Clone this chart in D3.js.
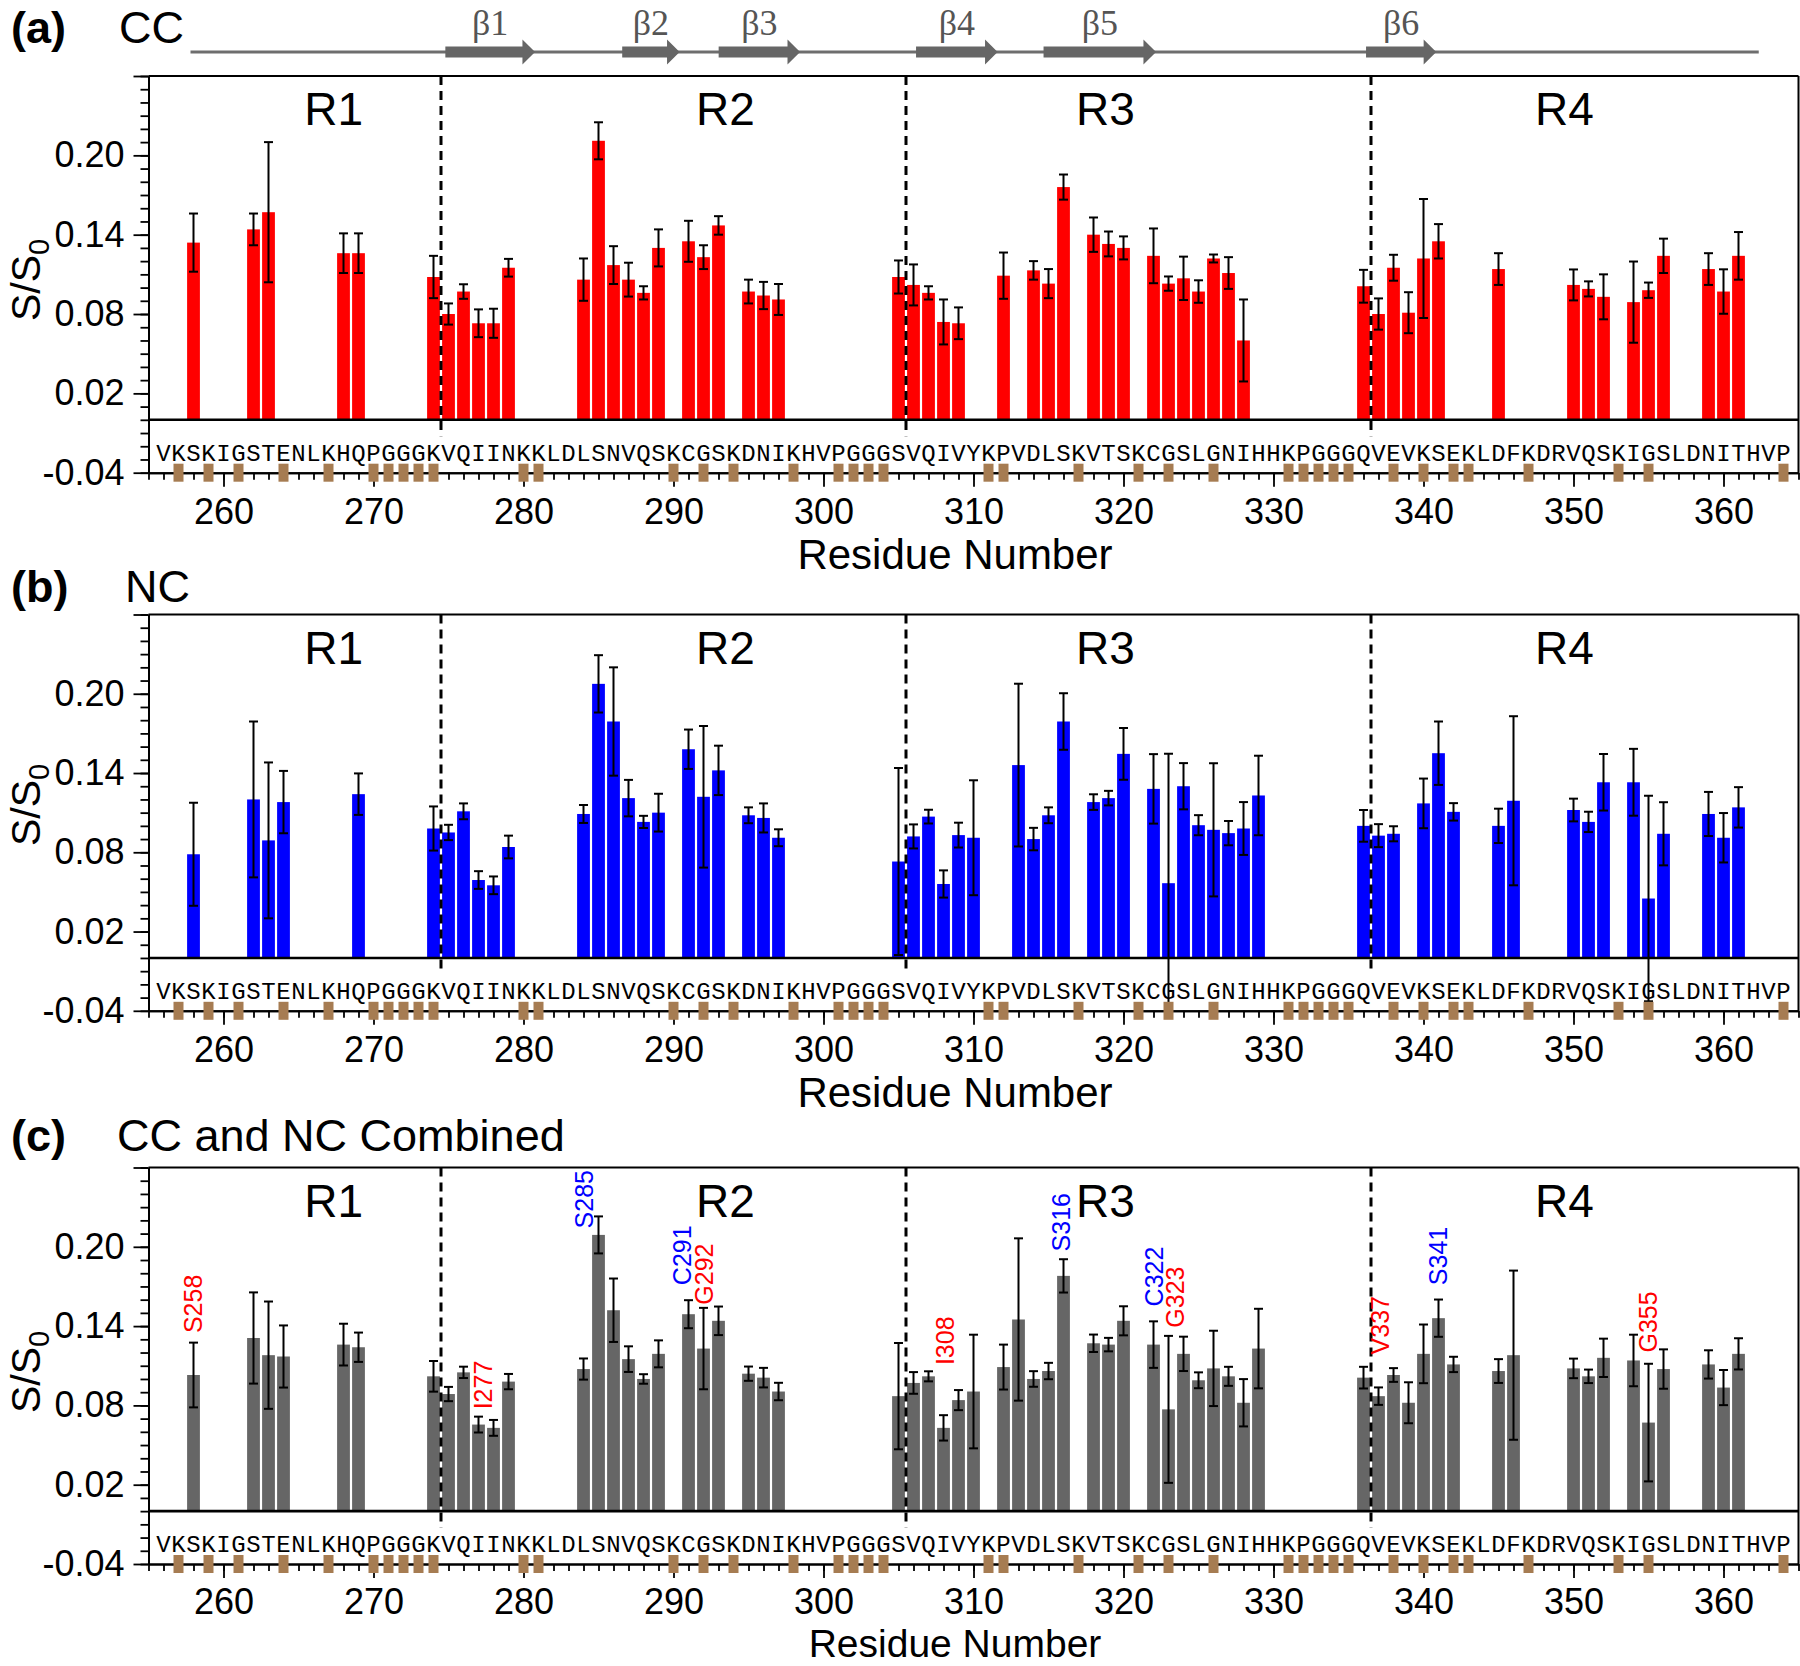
<!DOCTYPE html>
<html><head><meta charset="utf-8">
<script src="https://cdn.jsdelivr.net/npm/d3@7"></script>
<style>body{margin:0;background:#fff} svg{display:block}</style>
</head><body>
<svg id="chart" width="1800" height="1666"></svg>
<script>
// ---------------- DATA ----------------
// [residue, S/S0, error]
const ccData = [
 [258,0.134,0.022],[262,0.144,0.012],[263,0.157,0.053],[268,0.126,0.015],[269,0.126,0.015],
 [274,0.108,0.016],[275,0.080,0.008],[276,0.097,0.0055],[277,0.073,0.0105],[278,0.073,0.011],[279,0.115,0.0067],
 [284,0.106,0.016],[285,0.211,0.014],[286,0.117,0.0143],[287,0.106,0.0128],[288,0.096,0.005],[289,0.130,0.014],
 [291,0.135,0.0155],[292,0.123,0.009],[293,0.147,0.007],[295,0.097,0.009],[296,0.094,0.0103],[297,0.091,0.0117],
 [305,0.108,0.0125],[306,0.102,0.0155],[307,0.096,0.005],[308,0.074,0.017],[309,0.073,0.012],
 [312,0.109,0.0175],[314,0.113,0.007],[315,0.103,0.011],[316,0.176,0.0095],
 [318,0.140,0.013],[319,0.133,0.0094],[320,0.130,0.0087],
 [322,0.124,0.0207],[323,0.103,0.0054],[324,0.107,0.0164],[325,0.097,0.0085],[326,0.122,0.003],[327,0.111,0.012],[328,0.060,0.031],
 [336,0.101,0.0124],[337,0.080,0.0118],[338,0.115,0.0098],[339,0.081,0.0155],[340,0.122,0.045],[341,0.135,0.013],
 [345,0.114,0.012],[350,0.102,0.0117],[351,0.099,0.0057],[352,0.093,0.017],
 [354,0.089,0.0307],[355,0.098,0.0058],[356,0.124,0.013],[359,0.114,0.012],[360,0.097,0.0168],[361,0.124,0.018]
];
const ncData = [
 [258,0.0785,0.039],[262,0.120,0.059],[263,0.089,0.059],[264,0.118,0.0236],[269,0.124,0.0157],
 [274,0.098,0.0167],[275,0.095,0.0058],[276,0.111,0.006],[277,0.059,0.0067],[278,0.055,0.0067],[279,0.084,0.0086],
 [284,0.109,0.0068],[285,0.2075,0.0217],[286,0.179,0.041],[287,0.121,0.0138],[288,0.103,0.0046],[289,0.110,0.0143],
 [291,0.158,0.0149],[292,0.122,0.0536],[293,0.142,0.0187],[295,0.108,0.006],[296,0.106,0.011],[297,0.091,0.0064],
 [305,0.073,0.0708],[306,0.092,0.0091],[307,0.107,0.0052],[308,0.056,0.0103],[309,0.093,0.0094],[310,0.091,0.0435],
 [313,0.146,0.0616],[314,0.090,0.0085],[315,0.108,0.006],[316,0.179,0.0214],
 [318,0.118,0.0059],[319,0.121,0.0055],[320,0.1545,0.0196],
 [322,0.128,0.0263],[323,0.0566,0.098],[324,0.130,0.0175],[325,0.1005,0.0076],[326,0.097,0.0504],[327,0.0945,0.0092],[328,0.098,0.020],[329,0.123,0.0301],
 [336,0.100,0.012],[337,0.0926,0.0087],[338,0.094,0.0057],[340,0.117,0.0188],[341,0.155,0.024],[342,0.1106,0.0066],
 [345,0.100,0.013],[346,0.119,0.064],[350,0.112,0.0086],[351,0.103,0.0077],[352,0.133,0.0214],
 [354,0.133,0.0253],[355,0.045,0.0778],[356,0.094,0.0239],[359,0.109,0.0167],[360,0.091,0.0187],[361,0.114,0.0153]
];
const combinedData = [
 [258,0.103,0.0245],[262,0.131,0.0345],[263,0.118,0.0406],[264,0.117,0.0235],[268,0.126,0.0158],[269,0.124,0.0111],
 [274,0.102,0.0116],[275,0.0886,0.0054],[276,0.105,0.0043],[277,0.0655,0.006],[278,0.063,0.006],[279,0.098,0.0058],
 [284,0.1075,0.008],[285,0.209,0.014],[286,0.152,0.024],[287,0.115,0.0097],[288,0.100,0.0036],[289,0.119,0.0102],
 [291,0.149,0.0106],[292,0.123,0.0308],[293,0.144,0.0108],[295,0.104,0.0054],[296,0.101,0.0074],[297,0.0905,0.0066],
 [305,0.087,0.0402],[306,0.097,0.0082],[307,0.102,0.0038],[308,0.063,0.0096],[309,0.084,0.0076],[310,0.0905,0.043],
 [312,0.109,0.017],[313,0.145,0.0614],[314,0.100,0.0059],[315,0.106,0.0062],[316,0.178,0.0126],
 [318,0.127,0.0066],[319,0.126,0.0051],[320,0.144,0.011],
 [322,0.126,0.0176],[323,0.077,0.0556],[324,0.119,0.013],[325,0.099,0.006],[326,0.108,0.0285],[327,0.102,0.0072],[328,0.082,0.0179],[329,0.123,0.0301],
 [336,0.101,0.0082],[337,0.087,0.0066],[338,0.103,0.0052],[339,0.082,0.0155],[340,0.119,0.0222],[341,0.146,0.0141],[342,0.111,0.0058],
 [345,0.106,0.009],[346,0.118,0.064],[350,0.108,0.0074],[351,0.102,0.0051],[352,0.116,0.0145],
 [354,0.114,0.0195],[355,0.067,0.0445],[356,0.1075,0.0149],[359,0.111,0.0107],[360,0.0935,0.0133],[361,0.119,0.0118]
];
// annotations in panel (c): [residue position, label, colour, S/S0 where the label starts]
const annotations = [
 [257.98,'S258','red',0.1347],[277.33,'I277','red',0.077],[284.03,'S285','blue',0.2139],
 [290.55,'C291','blue',0.171],[292.01,'G292','red',0.1562],[308.12,'I308','red',0.1105],
 [315.86,'S316','blue',0.1965],[322.0,'C322','blue',0.1549],[323.43,'G323','red',0.1388],
 [337.12,'V337','red',0.1186],[340.98,'S341','blue',0.171],[354.97,'G355','red',0.12]
];
const sequence = "VKSKIGSTENLKHQPGGGKVQIINKKLDLSNVQSKCGSKDNIKHVPGGGSVQIVYKPVDLSKVTSKCGSLGNIHHKPGGGQVEVKSEKLDFKDRVQSKIGSLDNITHVP";
const sequenceStart = 256;
const markedResidues = [257,259,261,264,267,270,271,272,273,274,280,281,290,292,294,298,301,302,303,304,
  311,312,317,321,323,326,331,332,333,334,335,338,340,342,343,347,353,355,364];
const regionBoundaries = [274.5,305.5,336.5];
const regionLabels = [['R1',267.35],['R2',293.46],['R3',318.8],['R4',349.4]];
const strands = [['β1',274.79,280.77],['β2',286.58,290.41],['β3',293.01,298.44],
  ['β4',306.17,311.61],['β5',314.67,322.17],['β6',336.17,340.85]];
const backbone = [257.8,362.35];
const xMajorTicks = [260,270,280,290,300,310,320,330,340,350,360];
const yMajorTicks = [-0.04,0.02,0.08,0.14,0.20,0.26];
const yTickLabels = ['-0.04','0.02','0.08','0.14','0.20',''];

// ---------------- DRAW ----------------
const svg = d3.select('#chart');
const FONT = "'Liberation Sans', Arial, Helvetica, sans-serif";
const MONO = "'Liberation Mono', 'Courier New', monospace";
const SERIF = "'Liberation Serif', 'Times New Roman', serif";
const x = d3.scaleLinear().domain([255,365]).range([148.5,1798.5]);

const panels = [
 {tag:'(a)', title:'CC', titleX:119, data:ccData, color:'#ff0000', top:76, bottom:472.7, headY:43, ylabY:280, xlabY:569, xlabSize:42, tickPad:12, ann:[]},
 {tag:'(b)', title:'NC', titleX:125, data:ncData, color:'#0000ff', top:614.5, bottom:1010.8, headY:601.5, ylabY:805, xlabY:1107, xlabSize:42, tickPad:12, ann:[]},
 {tag:'(c)', title:'CC and NC Combined', titleX:117, data:combinedData, color:'#666666', top:1167.5, bottom:1564, headY:1151, ylabY:1372, xlabY:1657, xlabSize:39, tickPad:10, ann:annotations}
];

panels.forEach(p => {
  const y = d3.scaleLinear().domain([-0.04,0.26]).range([p.bottom,p.top]);
  const g = svg.append('g');

  // headers
  g.append('text').attr('x',11).attr('y',p.headY).attr('font-family',FONT).attr('font-size',45)
    .attr('font-weight','bold').text(p.tag);
  g.append('text').attr('x',p.titleX).attr('y',p.headY).attr('font-family',FONT).attr('font-size',45).text(p.title);

  // bars
  g.append('g').selectAll('rect').data(p.data).join('rect')
    .attr('x',d=>x(d[0])-6.4).attr('width',12.8)
    .attr('y',d=>y(d[1])).attr('height',d=>y(0)-y(d[1]))
    .attr('fill',p.color);

  // region dashed lines
  g.append('g').selectAll('line').data(regionBoundaries).join('line')
    .attr('x1',d=>x(d)).attr('x2',d=>x(d)).attr('y1',y(0.26)).attr('y2',y(-0.0125))
    .attr('stroke','#000').attr('stroke-width',3).attr('stroke-dasharray','9,6');

  // zero line
  g.append('line').attr('x1',x(255)).attr('x2',x(365)).attr('y1',y(0)).attr('y2',y(0))
    .attr('stroke','#000').attr('stroke-width',2.6);

  // error bars
  const eb = g.append('g').attr('stroke','#000').attr('stroke-width',2);
  eb.selectAll('line.v').data(p.data).join('line').attr('class','v')
    .attr('x1',d=>x(d[0])).attr('x2',d=>x(d[0]))
    .attr('y1',d=>y(d[1]+d[2])).attr('y2',d=>y(d[1]-d[2]));
  eb.selectAll('line.t').data(p.data).join('line').attr('class','t')
    .attr('x1',d=>x(d[0])-4.5).attr('x2',d=>x(d[0])+4.5)
    .attr('y1',d=>y(d[1]+d[2])).attr('y2',d=>y(d[1]+d[2]));
  eb.selectAll('line.b').data(p.data).join('line').attr('class','b')
    .attr('x1',d=>x(d[0])-4.5).attr('x2',d=>x(d[0])+4.5)
    .attr('y1',d=>y(d[1]-d[2])).attr('y2',d=>y(d[1]-d[2]));

  // borders
  g.append('line').attr('x1',x(255)).attr('x2',x(365)).attr('y1',y(0.26)).attr('y2',y(0.26))
    .attr('stroke','#000').attr('stroke-width',2);
  g.append('line').attr('x1',x(365)).attr('x2',x(365)).attr('y1',y(0.26)).attr('y2',y(-0.04))
    .attr('stroke','#000').attr('stroke-width',2);

  // left axis
  const yMinor = g.append('g').attr('transform',`translate(${x(255)},0)`)
    .call(d3.axisLeft(y).tickValues(d3.range(-4,27).map(v=>v/100)).tickSize(8).tickSizeOuter(0).tickFormat(''));
  const yMajor = g.append('g').attr('transform',`translate(${x(255)},0)`)
    .call(d3.axisLeft(y).tickValues(yMajorTicks).tickSize(15).tickSizeOuter(0).tickPadding(9)
      .tickFormat((d,i)=>yTickLabels[i]));
  // bottom axis
  const xMinor = g.append('g').attr('transform',`translate(0,${y(-0.04)})`)
    .call(d3.axisBottom(x).tickValues(d3.range(255,366)).tickSize(7).tickSizeOuter(0).tickFormat(''));
  const xMajor = g.append('g').attr('transform',`translate(0,${y(-0.04)})`)
    .call(d3.axisBottom(x).tickValues(xMajorTicks).tickSize(14).tickSizeOuter(0).tickPadding(p.tickPad).tickFormat(d=>String(d)));
  [yMinor,yMajor,xMinor,xMajor].forEach(a=>{
    a.attr('font-family',FONT).attr('font-size',36);
    a.selectAll('path').attr('stroke-width',2);
    a.selectAll('line').attr('stroke-width',1.8);
  });

  // sequence letters
  g.append('g').selectAll('text').data(sequence.split('')).join('text')
    .attr('x',(d,i)=>x(sequenceStart+i)).attr('y',y(-0.031))
    .attr('text-anchor','middle').attr('font-family',MONO).attr('font-size',24).text(d=>d);

  // marked residues
  g.append('g').selectAll('rect').data(markedResidues).join('rect')
    .attr('x',d=>x(d)-5).attr('width',10).attr('y',y(-0.04)-9).attr('height',18)
    .attr('fill','#a67c52');

  // region labels
  g.append('g').selectAll('text').data(regionLabels).join('text')
    .attr('x',d=>x(d[1])).attr('y',p.top+49).attr('text-anchor','middle')
    .attr('font-family',FONT).attr('font-size',46).text(d=>d[0]);

  // y label
  const yl = g.append('text').attr('transform',`translate(40,${p.ylabY}) rotate(-90)`)
    .attr('text-anchor','middle').attr('font-family',FONT).attr('font-size',41);
  yl.append('tspan').text('S/S');
  yl.append('tspan').attr('dy',9).attr('font-size',29).text('0');

  // x label
  g.append('text').attr('x',955).attr('y',p.xlabY).attr('text-anchor','middle')
    .attr('font-family',FONT).attr('font-size',p.xlabSize).text('Residue Number');

  // annotations
  g.append('g').selectAll('text').data(p.ann).join('text')
    .attr('transform',d=>`translate(${x(d[0])+9},${y(d[3])}) rotate(-90)`)
    .attr('font-family',FONT).attr('font-size',25).attr('fill',d=>d[2]).text(d=>d[1]);
});

// secondary structure (top)
const ss = svg.append('g');
ss.append('line').attr('x1',x(backbone[0])).attr('x2',x(backbone[1])).attr('y1',52).attr('y2',52)
  .attr('stroke','#6e6e6e').attr('stroke-width',3);
ss.selectAll('path').data(strands).join('path')
  .attr('d',d=>{
    const x0=x(d[1]), x1=x(d[2]), xh=x1-12.6, c=52;
    return `M${x0},${c-5.5}L${xh},${c-5.5}L${xh},${c-12.5}L${x1},${c}L${xh},${c+12.5}L${xh},${c+5.5}L${x0},${c+5.5}Z`;
  }).attr('fill','#666');
ss.selectAll('text').data(strands).join('text')
  .attr('x',d=>(x(d[1])+x(d[2]))/2).attr('y',35).attr('text-anchor','middle')
  .attr('font-family',SERIF).attr('font-size',36).attr('fill','#555').text(d=>d[0]);
</script>
</body></html>
